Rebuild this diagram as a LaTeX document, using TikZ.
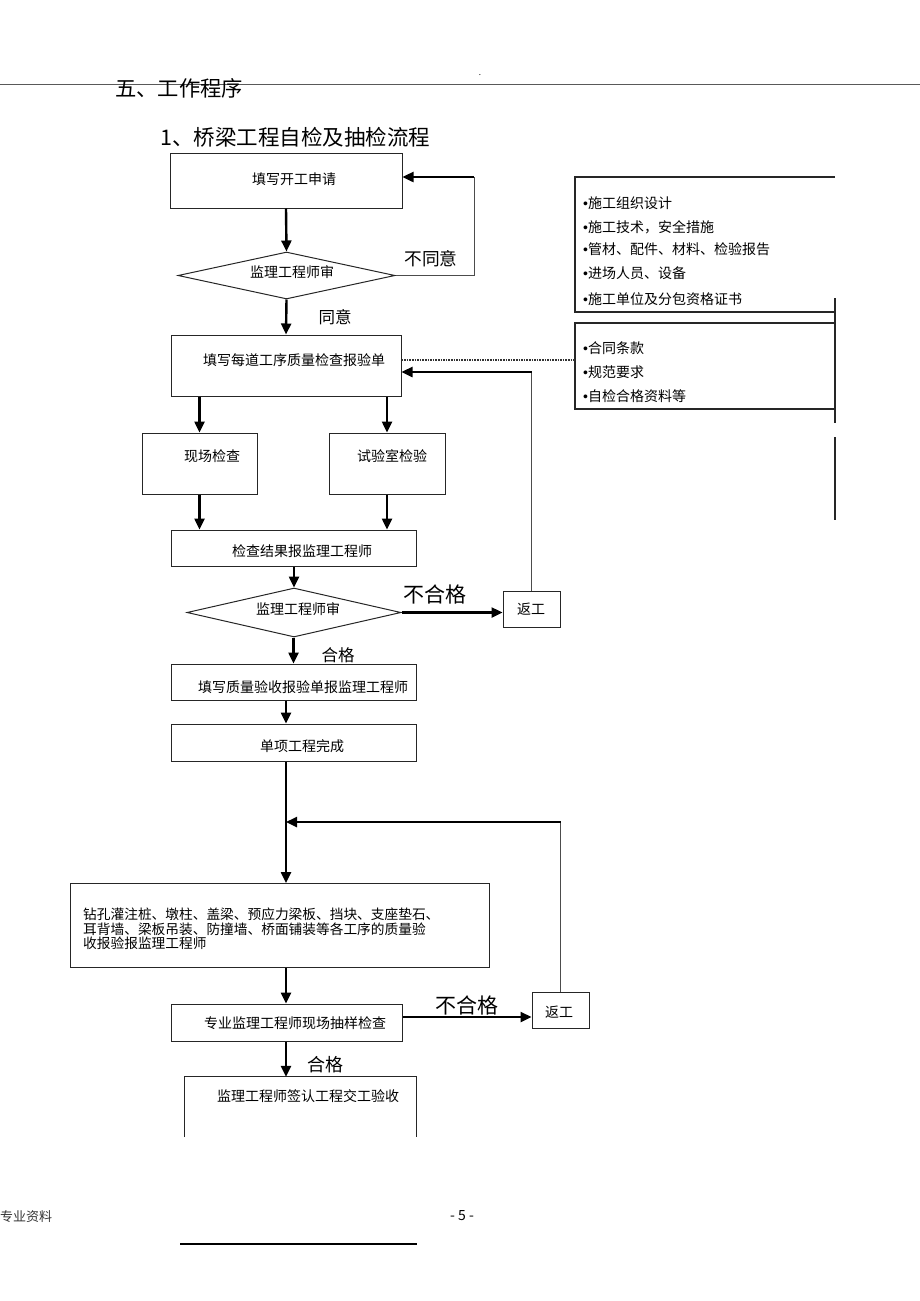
\documentclass[tikz,border=0pt]{standalone}
\usepackage{fontspec}
\setmainfont{Noto Sans CJK SC}
\newfontfamily\latinf{Liberation Sans}
\usetikzlibrary{arrows.meta,shapes.geometric}
\newcommand\myfs[1]{\fontsize{#1}{#1}\selectfont}
\newcommand\mybul{{\latinf •}}
\tikzset{
  box/.style={draw=black!85, line width=1pt, rectangle, inner sep=0pt},
  dia/.style={draw=black!85, line width=1pt, diamond, inner sep=0pt, aspect=4.6},
  arr/.style={line width=2.4pt, -{Triangle[length=11pt,width=10pt]}},
  thinl/.style={line width=1pt, draw=black!70},
  rline/.style={line width=1.2pt, draw=black!85},
  dotl/.style={line width=1.6pt, densely dotted, draw=black!80},
  txt/.style={font=\myfs{14}, inner sep=0pt},
  lbl/.style={inner sep=0pt},
  itm/.style={font=\myfs{14}, inner sep=0pt, anchor=west}
}
\begin{document}
\begin{tikzpicture}[x=1pt,y=-1pt]
\useasboundingbox (0,0) rectangle (920,1301);
% header
\coordinate (hl) at (0,84); \coordinate (hr) at (920,84);
\draw[line width=1pt, draw=black!65] (hl) -- (hr);
\node[font=\myfs{8}, inner sep=0pt] (dot) at (480,75) {.};
\node[anchor=west, font=\myfs{21.3}, inner sep=0pt] (t1) at (115,88) {五、工作程序};
\node[anchor=west, font=\myfs{21.5}, inner sep=0pt] (t2) at (160,137) {1、桥梁工程自检及抽检流程};

% spine x
\coordinate (sp) at (286,0);

% boxes
\node[box, minimum width=232pt, minimum height=55pt] (b1) at (286,180.5) {};
\node[txt] (b1t) at (294,179) {填写开工申请};
\node[dia, minimum width=217pt, minimum height=47pt] (d1) at (286.5,275.5) {};
\node[txt] (d1t) at (292,272) {监理工程师审};
\node[box, minimum width=230pt, minimum height=61pt] (b2) at (286,365.5) {};
\node[txt] (b2t) at (294,360) {填写每道工序质量检查报验单};
\node[box, minimum width=115pt, minimum height=61pt] (bx1) at (199.5,463.5) {};
\node[txt] (bx1t) at (212,456) {现场检查};
\node[box, minimum width=116pt, minimum height=61pt] (bx2) at (387,463.5) {};
\node[txt] (bx2t) at (392,456) {试验室检验};
\node[box, minimum width=245pt, minimum height=36pt] (b3) at (293.5,548) {};
\node[txt] (b3t) at (302,551) {检查结果报监理工程师};
\node[dia, minimum width=214pt, minimum height=49pt] (d2) at (294,612.5) {};
\node[txt] (d2t) at (298,609) {监理工程师审};
\node[box, minimum width=57pt, minimum height=36pt] (r1) at (531.5,609) {};
\node[txt] (r1t) at (531,609) {返工};
\node[box, minimum width=245pt, minimum height=36pt] (b4) at (293.5,682) {};
\node[txt] (b4t) at (303,687) {填写质量验收报验单报监理工程师};
\node[box, minimum width=245pt, minimum height=37pt] (b5) at (293.5,742.5) {};
\node[txt] (b5t) at (302,746) {单项工程完成};
\node[box, minimum width=419pt, minimum height=84pt] (b6) at (279.5,925.5) {};
\node[font=\fontsize{13.7}{14.5}\selectfont, inner sep=0pt, align=left, anchor=west] (b6t) at (83,929)
  {钻孔灌注桩、墩柱、盖梁、预应力梁板、挡块、支座垫石、\\耳背墙、梁板吊装、防撞墙、桥面铺装等各工序的质量验\\收报验报监理工程师};
\node[box, minimum width=231pt, minimum height=37pt] (b7) at (286.5,1022.5) {};
\node[txt] (b7t) at (295,1023) {专业监理工程师现场抽样检查};
\node[box, minimum width=57pt, minimum height=36pt] (r2) at (560.5,1010) {};
\node[txt] (r2t) at (559,1012) {返工};
\node[minimum width=231pt, minimum height=60pt, inner sep=0pt] (b8) at (300.5,1107) {};
\draw[line width=1pt, draw=black!85] (b8.south west) -- (b8.north west) -- (b8.north east) -- (b8.south east);
\node[txt] (b8t) at (308,1096) {监理工程师签认工程交工验收};

% labels
\node[lbl, font=\myfs{17.7}] (l1) at (431,259) {不同意};
\node[lbl, font=\myfs{16.5}] (l2) at (335,317) {同意};
\node[lbl, font=\myfs{21}] (l3) at (435,594) {不合格};
\node[lbl, font=\myfs{16.5}] (l4) at (338,655) {合格};
\node[lbl, font=\myfs{21}] (l5) at (467,1005) {不合格};
\node[lbl, font=\myfs{18}] (l6) at (325,1065) {合格};

% main arrows
\draw[arr] (b1.south) -- (d1.north);
\draw[arr] (d1.south) -- (b2.north);
\draw[arr] (b2.south -| bx1.north) -- (bx1.north);
\draw[arr] (b2.south -| bx2.north) -- (bx2.north);
\draw[arr] (bx1.south) -- (bx1.south |- b3.north);
\draw[arr] (bx2.south) -- (bx2.south |- b3.north);
\draw[arr] (b3.south -| d2.north) -- (d2.north);
\draw[arr] (d2.east) -- (d2.east -| r1.west);
\draw[arr] (d2.south -| b4.north) -- (b4.north);
\draw[arr] (b4.south -| sp) -- (b5.north -| sp);
\draw[arr] (b5.south -| sp) -- (b6.north -| sp);
\draw[arr] (b6.south -| sp) -- (b7.north -| sp);
\draw[arr] ([yshift=5.5pt]b7.east) -- ([yshift=5.5pt]b7.east -| r2.west);
\draw[arr] (b7.south -| sp) -- (b8.north -| sp);

% feedback 1
\coordinate (f0) at (474,177);
\draw[thinl] (d1.east) -- (d1.east -| f0) -- (f0);
\draw[arr] (f0) -- (f0 -| b1.east);
% feedback 2
\coordinate (f1) at (532,372);
\draw[thinl] (r1.north) -- (r1.north |- f1);
\draw[arr] (r1.north |- f1) -- (f1 -| b2.east);
% feedback 3
\coordinate (f2) at (560,822);
\draw[thinl] (r2.north) -- (r2.north |- f2);
\draw[arr] (r2.north |- f2) -- (f2 -| sp);

% right info boxes
\coordinate (a1) at (835,177); \coordinate (a2) at (575,177);
\coordinate (a3) at (575,312); \coordinate (a4) at (835,312);
\draw[rline] (a1) -- (a2) -- (a3) -- (a4);
\coordinate (c1) at (835,323); \coordinate (c2) at (575,323);
\coordinate (c3) at (575,409); \coordinate (c4) at (835,409);
\draw[rline] (c1) -- (c2) -- (c3) -- (c4);
\coordinate (v1) at (835,298); \coordinate (v2) at (835,423);
\coordinate (v3) at (835,437); \coordinate (v4) at (835,520);
\draw[rline] (v1) -- (v2);
\draw[rline] (v3) -- (v4);
\coordinate (bB) at (575,360);
\draw[dotl] (b2.east |- bB) -- (bB);

\node[itm] (i1) at (583,203) {\mybul 施工组织设计};
\node[itm] (i2) at (583,227) {\mybul 施工技术，安全措施};
\node[itm] (i3) at (583,249) {\mybul 管材、配件、材料、检验报告};
\node[itm] (i4) at (583,273) {\mybul 进场人员、设备};
\node[itm] (i5) at (583,299) {\mybul 施工单位及分包资格证书};
\node[itm] (i6) at (583,348) {\mybul 合同条款};
\node[itm] (i7) at (583,372) {\mybul 规范要求};
\node[itm] (i8) at (583,396) {\mybul 自检合格资料等};

% footer
\node[anchor=west, font=\myfs{13}, text=black!80, inner sep=0pt] (ft) at (0,1217) {专业资料};
\node[font=\myfs{14}, inner sep=0pt] (pg) at (462,1216) {- 5 -};
\coordinate (fl) at (180,1244); \coordinate (fr) at (417,1244);
\draw[line width=1.2pt] (fl) -- (fr);
\end{tikzpicture}
\end{document}
